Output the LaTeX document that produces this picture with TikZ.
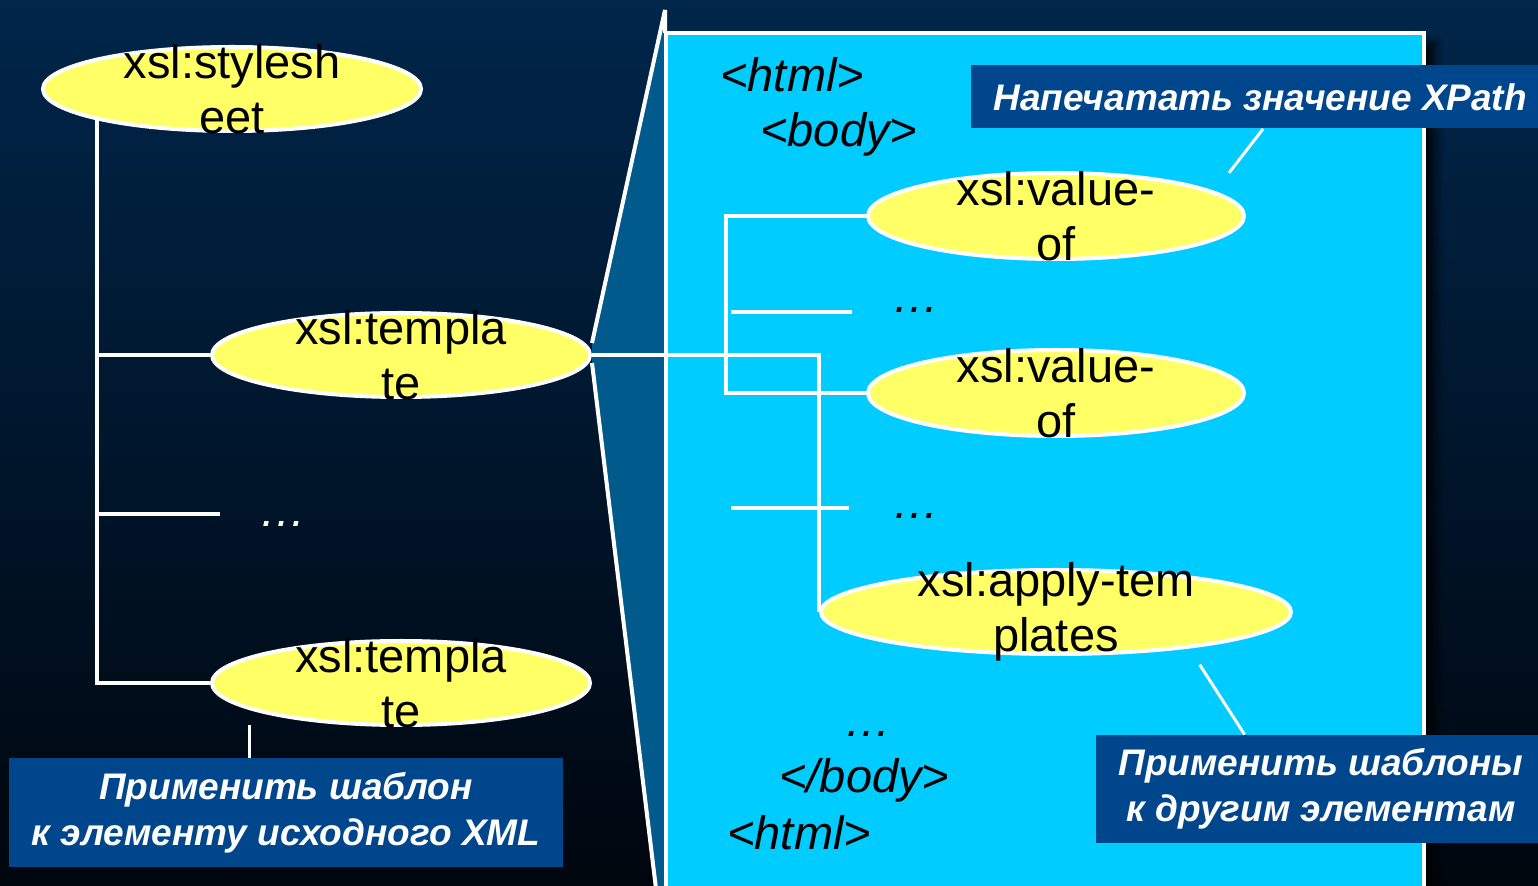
\documentclass[tikz,border=0pt]{standalone}
\usepackage{fontspec}
\setmainfont{Liberation Sans}
\usetikzlibrary{calc,shapes.geometric,backgrounds,shadows.blur}
\definecolor{slidetop}{RGB}{0,38,74}
\definecolor{slidebottom}{RGB}{0,6,14}
\definecolor{zoomblue}{RGB}{0,90,140}
\definecolor{panelcyan}{RGB}{0,204,255}
\definecolor{leafyellow}{RGB}{255,255,102}
\definecolor{noteblue}{RGB}{0,70,140}
\tikzset{
  slide/.style={
    x=0.5pt,
    y=-0.5pt,
    font={\fontsize{23.5}{27.5}\selectfont},
  },
  leaf/.style={ellipse, draw=white, line width=2pt, fill=leafyellow,
    minimum width=189pt, minimum height=42pt, inner sep=0pt},
  leaf text/.style={align=center, inner sep=0pt},
  tree/.style={draw=white, line width=2pt},
  pointer/.style={draw=white, line width=1.5pt},
  zoom edge/.style={draw=white, line width=2pt, line join=bevel},
  tag/.style={anchor=base west, inner sep=0pt,
    font={\fontsize{23.5}{27.5}\selectfont\itshape}},
  dots/.style={inner sep=0pt, font={\fontsize{23.5}{27.5}\selectfont\itshape}},
  note/.style={fill=noteblue, text=white, align=center, inner sep=0pt,
    font={\fontsize{18.5}{23}\selectfont\bfseries\itshape}},
  panel/.style={fill=panelcyan, draw=white, line width=2pt,
    blur shadow={shadow xshift=5pt, shadow yshift=-5pt,
      shadow blur radius=5pt, shadow opacity=90}},
}

\begin{document}
\begin{tikzpicture}[slide]

  \useasboundingbox (0,0) rectangle (1538,886);

  % left: stylesheet tree
  \node [leaf] (sheet) at (232,89) {};
  \node [leaf] (tmplA) at (401,355) {};
  \node [leaf] (tmplB) at (401,683) {};
  \node [leaf text] (sheet label) at (sheet) {xsl:stylesh\\eet};
  \node [leaf text] (tmplA label) at (tmplA) {xsl:templa\\te};
  \node [leaf text] (tmplB label) at (tmplB) {xsl:templa\\te};

  \draw [tree] (sheet.south west) |- (tmplA.west);
  \draw [tree] (sheet.south west) |- (tmplB.west);
  \coordinate (stubL) at (220,514);
  \draw [tree] (stubL -| sheet.south west) -- (stubL);
  \node [dots, text=white] (dotsL) at ($(stubL)+(63,10)$) {…};

  % right: zoomed template
  \node [panel, anchor=north west, minimum width=379pt, minimum height=435pt]
  (panel) at (664,31) {};

  \begin{scope}[on background layer]
    \shade [top color=slidetop, bottom color=slidebottom]
    (0,0) rectangle (1538,886);
    \fill [zoomblue] ([yshift=6pt]tmplA.east) -- ($(panel.north west)+(1,-21)$)
    -- ($(panel.south west)+(1,0)$) -- ($(panel.south west)+(-6,0)$)
    -- ([yshift=-4pt]tmplA.east) -- cycle;
    \draw [zoom edge] ([yshift=6pt]tmplA.east) -- ($(panel.north west)+(1,-21)$)
    -- ($(panel.north west)+(1,2)$);
    \draw [zoom edge] ([yshift=-4pt]tmplA.east) -- ($(panel.south west)+(-6,0)$);
  \end{scope}

  \node [tag] (html open) at (720,92) {<html>};
  \node [tag] (body open) at (760,147) {<body>};

  \node [leaf, minimum width=188pt, minimum height=43pt] (valueA) at (1056,216) {};
  \node [leaf, minimum width=188pt, minimum height=43pt] (valueB) at (1056,393) {};
  \node [leaf, minimum width=235pt] (apply) at (1056,612) {};
  \node [leaf text] (valueA label) at (valueA) {xsl:value-\\of};
  \node [leaf text] (valueB label) at (valueB) {xsl:value-\\of};
  \node [leaf text] (apply label) at (apply) {xsl:apply-tem\\plates};

  \draw [tree] (tmplA.east) -| (apply.west);
  \draw [tree] (valueA.west) -- ++(-140,0) |- (valueB.west);
  \coordinate (stubA) at (852,312);
  \coordinate (stubB) at (849,508);
  \draw [tree] (stubA) -- ++(-121,0);
  \draw [tree] (stubB) -- ++(-118,0);
  \node [dots] (dotsA) at ($(stubA)+(64,-2)$) {…};
  \node [dots] (dotsB) at ($(stubB)+(67,8)$) {…};

  \node [dots, anchor=base] (dotsC) at (868,737) {…};
  \node [tag] (body close) at (779,793) {</body>};
  \node [tag] (html close) at (727,850) {<html>};

  % callouts
  \node [note, minimum width=277pt, minimum height=54.5pt]
  (noteL) at (286,813) {Применить шаблон\\к элементу исходного XML};
  \node [note, anchor=west, minimum height=31.5pt, inner xsep=11pt]
  (noteX) at (971,97) {Напечатать значение XPath};
  \node [note, minimum width=225pt, minimum height=54pt]
  (noteR) at (1321,789) {Применить шаблоны\\к другим элементам};

  \draw [pointer] ([xshift=-18.5pt]noteL.north) -- ++(0,-33);
  \draw [pointer] ([xshift=146pt]noteX.south west) -- ++(-34,44);
  \draw [pointer] ([xshift=74.5pt]noteR.north west) -- ++(-45,-70);

\end{tikzpicture}
\end{document}
